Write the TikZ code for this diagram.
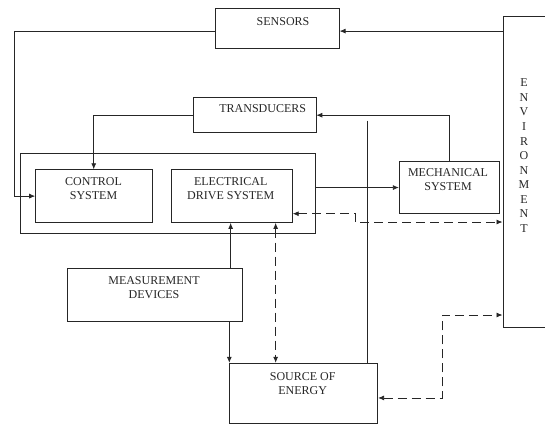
\documentclass[tikz,border=0pt]{standalone}
\usepackage{fontspec}
\setmainfont{Liberation Serif}
\usetikzlibrary{arrows.meta}
\begin{document}
\begin{tikzpicture}[x=1pt,y=-1pt,
  box/.style={draw=black!85, line width=0.8pt, anchor=north west, inner sep=0pt},
  lbl/.style={font=\fontsize{12}{14}\selectfont, text=black!85, align=center, anchor=north, inner sep=0pt},
  ln/.style={draw=black!85, line width=0.8pt},
  arr/.style={ln, -{Latex[length=6pt,width=5pt]}},
  darr/.style={ln, {Latex[length=6pt,width=5pt]}-{Latex[length=6pt,width=5pt]}, dash pattern=on 9pt off 5pt}]
\useasboundingbox (0,0) rectangle (545,424);
\clip (0,0) rectangle (545,424);
% boxes
\node[box, minimum width=124.1pt, minimum height=40pt] (sensors) at (214.7,8.3) {};
\node[box, minimum width=122.3pt, minimum height=35pt] (transducers) at (193.2,97.3) {};
\node[box, minimum width=294.7pt, minimum height=79.4pt] (outer) at (19.8,153.3) {};
\node[box, minimum width=116.3pt, minimum height=52.8pt] (control) at (35.2,169.3) {};
\node[box, minimum width=120.9pt, minimum height=52.8pt] (drive) at (171,169.3) {};
\node[box, minimum width=100.4pt, minimum height=52.3pt] (mech) at (398.9,161) {};
\node[box, minimum width=174.5pt, minimum height=52.4pt] (meas) at (67,268.3) {};
\node[box, minimum width=148pt, minimum height=60.5pt] (source) at (229.3,362.8) {};
\node[box, minimum width=60pt, minimum height=310.7pt] (env) at (502.5,16) {};
% labels
\node[lbl] (tsens) at (283,17) {SENSORS};
\node[lbl] (ttrans) at (262.7,104.3) {TRANSDUCERS};
\node[lbl] (tctrl) at (93.5,177.5) {CONTROL\\SYSTEM};
\node[lbl] (tdrive) at (230.7,177.5) {ELECTRICAL\\DRIVE SYSTEM};
\node[lbl] (tmech) at (448,168.3) {MECHANICAL\\SYSTEM};
\node[lbl] (tmeas) at (154,276.7) {MEASUREMENT\\DEVICES};
\node[lbl] (tsrc) at (302.7,372.7) {SOURCE OF\\ENERGY};
\node[lbl, font=\fontsize{12}{14.56}\selectfont] (tenv) at (524,78.7) {E\\N\\V\\I\\R\\O\\N\\M\\E\\N\\T};
% connectors
\coordinate (s1) at ([yshift=-2.4pt]sensors.east);
\draw[arr] (s1 -| env.west) -- (s1);
\coordinate (s2) at ([yshift=-2.4pt]sensors.west);
\coordinate (cl) at (13.9,0);
\draw[arr] (s2) -- (cl |- s2) -- (cl |- control.west) -- (control.west);
\draw[arr] (transducers.west) -| (control.north);
\draw[arr] (mech.north) |- (transducers.east);
\coordinate (v1) at (367.6,120.7);
\draw[ln] (v1) -- (v1 |- source.north);
\draw[arr] (outer.east |- mech.west) -- (mech.west);
\coordinate (d1) at (355.1,222);
\draw[darr] ([yshift=-17.6pt]drive.east) -| (d1) -- (d1 -| env.west);
\coordinate (m1) at ([xshift=-1.2pt]drive.south);
\draw[arr] (m1 |- meas.north) -- (m1);
\draw[arr] (source.north west |- meas.south) -- (source.north west);
\coordinate (d3) at ([xshift=43.8pt]drive.south);
\draw[darr] (d3) -- (d3 |- source.north);
\coordinate (d2) at (442,315);
\draw[darr] ([yshift=-4.5pt]source.east) -| (d2) -- (d2 -| env.west);
\end{tikzpicture}
\end{document}
